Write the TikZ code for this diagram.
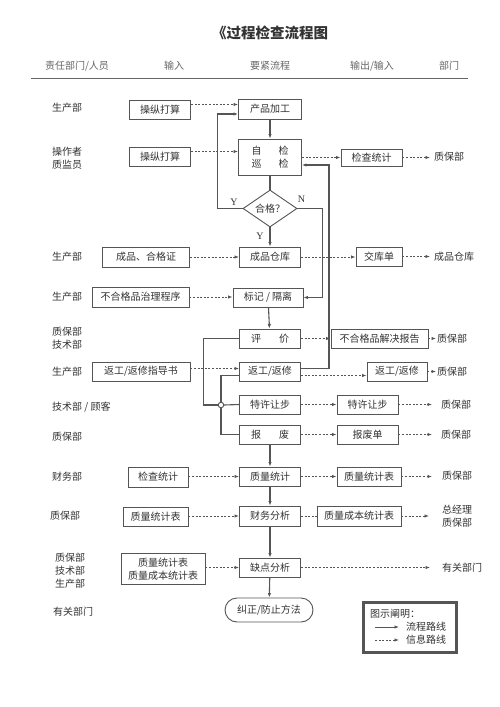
\documentclass[tikz,border=0pt]{standalone}
\usepackage{fontspec}
\setmainfont{Noto Sans CJK SC}
\newfontfamily\latf{Liberation Serif}
\usetikzlibrary{arrows.meta,shapes.geometric,calc}
\definecolor{ln}{HTML}{555555}
\definecolor{txt}{HTML}{333333}
\begin{document}
\begin{tikzpicture}[x=1pt,y=-1pt,
  every node/.style={text=txt, font=\fontsize{10}{13}\selectfont, inner sep=0pt},
  bx/.style={draw=ln, line width=0.9pt, minimum height=19pt, minimum width=61pt, align=center, fill=white},
  tip/.style={-{Latex[length=4.5pt,width=3.4pt]}},
  flow/.style={draw=ln, line width=1.1pt, tip},
  flowline/.style={draw=ln, line width=1.1pt},
  info/.style={draw=ln, line width=0.8pt, dash pattern=on 2pt off 1.6pt, tip},
  infoline/.style={draw=ln, line width=0.8pt, dash pattern=on 2pt off 1.6pt},
  lbl/.style={anchor=west, align=left},
  head/.style={text=black!60},
  yn/.style={font=\latf\fontsize{10}{12}\selectfont, text=txt},
]
\useasboundingbox (0,0) rectangle (500,707);
\fill[white] (0,0) rectangle (500,707);

% title and header
\node (title) at (270,33) {\fontsize{14.5}{16}\selectfont\bfseries 《过程检查流程图};
\node[head] (h1) at (77,66) {责任部门/人员};
\node[head] (h2) at (174,66) {输入};
\node[head] (h3) at (270,66) {要紧流程};
\node[head] (h4) at (372,66) {输出/输入};
\node[head] (h5) at (449,66) {部门};
\coordinate (hl1) at (31,78);
\coordinate (hl2) at (468,78);
\draw[draw=black!60, line width=1pt] (hl1) -- (hl2);

% left labels
\node[lbl] (l1) at (52,108) {生产部};
\node[lbl] (l2) at (52,158.5) {操作者\\质监员};
\node[lbl] (l3) at (52,257) {生产部};
\node[lbl] (l4) at (52,297) {生产部};
\node[lbl] (l5) at (52,338.5) {质保部\\技术部};
\node[lbl] (l6) at (52,372) {生产部};
\node[lbl] (l7) at (52,407) {技术部 / 顾客};
\node[lbl] (l8) at (52,437) {质保部};
\node[lbl] (l9) at (52,477) {财务部};
\node[lbl] (l10) at (50,516) {质保部};
\node[lbl] (l11) at (55,571) {质保部\\技术部\\生产部};
\node[lbl] (l12) at (53,612) {有关部门};

% input boxes
\node[bx] (op1) at (160,109.5) {操纵打算};
\node[bx] (op2) at (160,156.5) {操纵打算};
\node[bx, minimum width=87pt, minimum height=20pt] (cphg) at (146,257) {成品、合格证};
\node[bx, minimum width=97pt, minimum height=20pt] (bhg) at (140.5,297) {不合格品治理程序};
\node[bx, minimum width=98pt] (fgzd) at (141,371.5) {返工/返修指导书};
\node[bx, minimum width=60pt, minimum height=20pt] (jc2) at (158,477) {检查统计};
\node[bx, minimum width=65pt] (zlb2) at (155.5,516.5) {质量统计表};
\node[bx, minimum width=84pt, minimum height=31pt, text depth=0pt] (two) at (163,568.5) {质量统计表\\质量成本统计表};

% main flow
\node[bx, minimum width=63pt, minimum height=20pt] (pj) at (270,109) {产品加工};
\node[bx, minimum width=63pt, minimum height=36pt] (zj) at (270,157) {自\hspace{17pt}检\\巡\hspace{17pt}检};
\node[diamond, draw=ln, line width=0.9pt, minimum width=54pt, minimum height=37pt, aspect=1.46, fill=white] (dia) at (270,208.5) {合格？};
\node[bx, minimum height=20pt] (cpck) at (270,257) {成品仓库};
\node[bx, minimum width=70pt] (bj) at (268,297.5) {标记 / 隔离};
\node[bx] (pjia) at (270,338.5) {评\hspace{18pt}价};
\node[bx] (fg) at (270,371.5) {返工/返修};
\node[bx] (tx) at (270,404.5) {特许让步};
\node[bx] (bf) at (270,434.5) {报\hspace{18pt}废};
\node[bx] (zltj) at (270,476.5) {质量统计};
\node[bx, minimum height=20pt] (cwfx) at (270,516) {财务分析};
\node[bx] (qdfx) at (270,567.5) {缺点分析};
\node[bx, minimum width=88pt, minimum height=24pt, rounded corners=12pt] (jz) at (269,610) {纠正/防止方法};
\node[circle, draw=ln, line width=0.9pt, fill=white, minimum size=5.5pt] (jn) at (221,405) {};

% output boxes
\node[bx, minimum height=17pt] (jc1) at (371.5,157.5) {检查统计};
\node[bx, minimum width=46pt] (jkd) at (379,256.5) {交库单};
\node[bx, minimum width=97pt] (bhgbg) at (379.5,338.5) {不合格品解决报告};
\node[bx, minimum width=60pt] (fg2) at (397,371.5) {返工/返修};
\node[bx] (tx2) at (367.5,404.5) {特许让步};
\node[bx] (bfd) at (367.5,434.5) {报废单};
\node[bx, minimum width=64pt] (zlb1) at (369,476.5) {质量统计表};
\node[bx, minimum width=84pt, minimum height=20pt] (zlcb) at (359,516) {质量成本统计表};

% right labels
\node[lbl] (zb1) at (434,157) {质保部};
\node[lbl] (cpck2) at (434,257) {成品仓库};
\node[lbl] (zb3) at (437,339) {质保部};
\node[lbl] (zb4) at (437,372) {质保部};
\node[lbl] (zb5) at (441,405) {质保部};
\node[lbl] (zb6) at (441,435) {质保部};
\node[lbl] (zb7) at (442,476) {质保部};
\node[lbl] (zjl) at (442,516) {总经理\\质保部};
\node[lbl] (ygbm) at (442,568) {有关部门};

% flow connectors
\draw[flow] (pj) -- (zj);
\draw[flowline] (zj) -- (dia);
\draw[flow] (dia.west) -- ++(-25,0) |- ([yshift=-5pt]pj.west);
\node[yn] (ylab1) at (234,202) {Y};
\draw[flow] (dia.south) -- (cpck.north);
\node[yn] (ylab2) at (260,236.5) {Y};
\draw[flow] (dia.east) -- ++(25,0) |- (bj.east);
\node[yn] (nlab) at (301.5,199.5) {N};
\draw[flow] (bj) -- (pjia);
\draw[flowline] (pjia.west) -- ++(-36,0) |- (jn.west);
\draw[flowline] (jn.north) |- ([yshift=-4pt]fg.west);
\draw[flowline] (jn.east) -- (tx.west);
\draw[flowline] (jn.south) |- (bf.west);
\draw[flow] ([yshift=3pt]fg.east) -- ++(28,0) |- ([yshift=-8pt]zj.east);
\draw[flow] (bf) -- (zltj);
\draw[flow] (zltj) -- (cwfx);
\draw[flow] (cwfx) -- (qdfx);
\draw[flow] (qdfx) -- (jz);

% info connectors
\draw[info] ([yshift=5pt]op1.east) -- ([yshift=5pt]op1.east -| pj.west);
\draw[info] ([yshift=5pt]op2.east) -- ([yshift=5pt]op2.east -| zj.west);
\draw[info] (zj.east |- jc1.west) -- (jc1.west);
\draw[info] (jc1.east) -- ([xshift=-4pt]zb1.west |- jc1.east);
\draw[info] (cphg.east) -- (cpck.west);
\draw[info] (cpck.east) -- (jkd.west |- cpck.east);
\draw[info] (jkd.east) -- ([xshift=-4pt]cpck2.west |- jkd.east);
\draw[info] (bhg.east) -- (bhg.east -| bj.west);
\draw[info] (pjia.east) -- (bhgbg.west);
\draw[info] (bhgbg.east) -- ([xshift=-1pt]zb3.west |- bhgbg.east);
\draw[info] ([yshift=3pt]fgzd.east) -- ([yshift=3pt]fgzd.east -| fg.west);
\draw[info] ([yshift=-4pt]fg.east) -- ([yshift=-4pt]fg.east -| fg2.west);
\draw[info] (fg2.east) -- ([xshift=-1pt]zb4.west |- fg2.east);
\draw[info] (tx.east) -- (tx2.west);
\draw[info] (tx2.east) -- ([xshift=-9pt]zb5.west |- tx2.east);
\draw[info] (bf.east) -- (bfd.west);
\draw[info] (bfd.east) -- ([xshift=-9pt]zb6.west |- bfd.east);
\draw[info] (jc2.east |- zltj.west) -- (zltj.west);
\draw[info] (zltj.east) -- (zlb1.west);
\draw[info] (zlb1.east) -- ([xshift=-10pt]zb7.west |- zlb1.east);
\draw[info] (zlb2.east |- cwfx.west) -- (cwfx.west);
\draw[infoline] (cwfx.east) -- (zlcb.west);
\draw[info] (zlcb.east) -- ([xshift=-13pt]zjl.west |- zlcb.east);
\draw[info] (two.east |- qdfx.west) -- (qdfx.west);
\draw[info] (qdfx.east) -- ([xshift=-12pt]ygbm.west |- qdfx.east);

% legend
\node[draw=ln, line width=1.8pt, minimum width=94pt, minimum height=51pt] (leg) at (410,627.5) {};
\draw[draw=ln, line width=0.7pt] ([shift={(2.6pt,-2.6pt)}]leg.north west) rectangle ([shift={(-2.6pt,2.6pt)}]leg.south east);
\node[lbl] (lt) at (370,613.5) {图示阐明：};
\coordinate (a1s) at (375,627);
\coordinate (a1e) at (399,627);
\coordinate (a2s) at (375,640);
\coordinate (a2e) at (399,640);
\draw[draw=ln, line width=0.8pt, tip] (a1s) -- (a1e);
\draw[info] (a2s) -- (a2e);
\node[lbl] (lf) at (406,627) {流程路线};
\node[lbl] (li) at (406,640) {信息路线};
\end{tikzpicture}
\end{document}
